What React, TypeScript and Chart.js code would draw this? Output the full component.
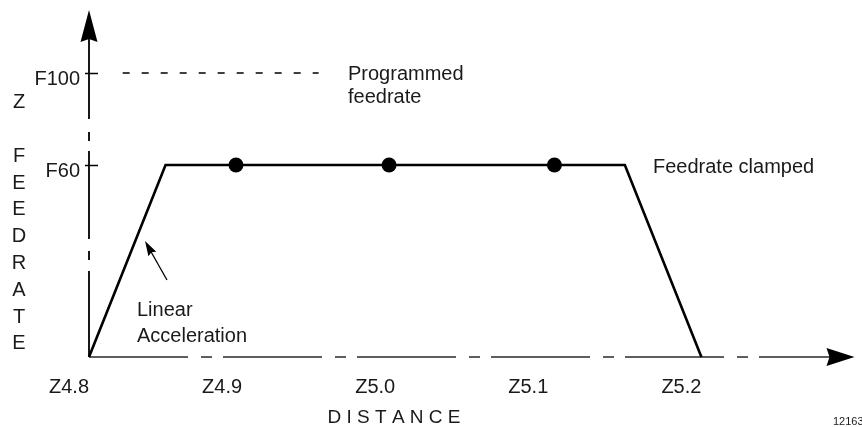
import React, { useEffect, useRef } from 'react';
import { Chart, registerables, LinearScale } from 'chart.js';

// ---------------- data ----------------
const xTickValues = [4.8, 4.9, 5.0, 5.1, 5.2];
const xTickLabels = ['Z4.8', 'Z4.9', 'Z5.0', 'Z5.1', 'Z5.2'];
const yTickValues = [60, 100];
const yTickLabels = ['F60', 'F100'];

// feedrate profile (distance, feedrate)
const profileDistance = [4.8, 4.85, 5.15, 5.2];
const profileFeed = [0, 60, 60, 0];

// block end points on the clamped plateau
const blockDistance = [4.896, 4.996, 5.104];
const blockFeed = [60, 60, 60];

// programmed feedrate reference (dashed)
const programmedDistance = [4.822, 4.95];
const programmedFeed = [100, 100];

const yAxisLetters = ['Z', '', 'F', 'E', 'E', 'D', 'R', 'A', 'T', 'E'];

// ---------------- broken y axis (compressed above F60) ----------------
const BREAK_AT = 60;
const BREAK_RATIO = 0.71875;
const compress = (v: number) => (v <= BREAK_AT ? v : BREAK_AT + (v - BREAK_AT) * BREAK_RATIO);
const expand = (v: number) => (v <= BREAK_AT ? v : BREAK_AT + (v - BREAK_AT) / BREAK_RATIO);

class BrokenLinearScale extends LinearScale {
  static id = 'brokenLinear';
  static defaults = LinearScale.defaults;
  getPixelForValue(value: number) {
    return super.getPixelForValue(compress(value));
  }
  getValueForPixel(pixel: number) {
    return expand(super.getValueForPixel(pixel) as number);
  }
}

Chart.register(...registerables, BrokenLinearScale as any);

const FAMILY = '"Liberation Sans", Arimo, Arial, sans-serif';
const INK = '#1a1a1a';

function arrowHead(ctx: CanvasRenderingContext2D, tipX: number, tipY: number, fromX: number, fromY: number, len: number, half: number, notch: number) {
  const ang = Math.atan2(tipY - fromY, tipX - fromX);
  const c = Math.cos(ang), s = Math.sin(ang);
  const bx = tipX - c * len, by = tipY - s * len;
  const nx = tipX - c * (len - notch), ny = tipY - s * (len - notch);
  ctx.beginPath();
  ctx.moveTo(tipX, tipY);
  ctx.lineTo(bx - s * half, by + c * half);
  ctx.lineTo(nx, ny);
  ctx.lineTo(bx + s * half, by - c * half);
  ctx.closePath();
  ctx.fill();
}

const schematicPlugin = {
  id: 'schematic',
  beforeDatasetsDraw(chart: any) {
    const { ctx, chartArea: a } = chart;
    ctx.save();
    // x axis: centre-line (long-short) style, greyish
    ctx.strokeStyle = '#5e5e5e';
    ctx.lineWidth = 2;
    ctx.setLineDash([99, 13, 11, 11]);
    ctx.beginPath();
    ctx.moveTo(a.left, a.bottom);
    ctx.lineTo(a.right - 12, a.bottom);
    ctx.stroke();
    // y axis: broken line
    ctx.strokeStyle = '#000';
    ctx.lineWidth = 1.8;
    ctx.setLineDash([105, 13, 9, 10, 88, 12, 9, 11, 400]);
    ctx.beginPath();
    ctx.moveTo(a.left, a.top + 4);
    ctx.lineTo(a.left, a.bottom);
    ctx.stroke();
    ctx.restore();
  },
  afterDraw(chart: any) {
    const { ctx, chartArea: a, scales } = chart;
    const y = scales.y;
    ctx.save();
    ctx.fillStyle = '#000';
    ctx.strokeStyle = '#000';

    // axis arrowheads
    arrowHead(ctx, a.left, a.top, a.left, a.top + 50, 32, 8.5, 3);
    arrowHead(ctx, a.right, a.bottom, a.right - 50, a.bottom, 28, 9, 3);

    // y tick crosses
    ctx.lineWidth = 1.5;
    yTickValues.forEach((v) => {
      const py = Math.round(y.getPixelForValue(v)) + 0.5;
      ctx.beginPath();
      ctx.moveTo(a.left - 4, py);
      ctx.lineTo(a.left + 9, py);
      ctx.stroke();
    });

    // vertical axis title letters
    ctx.fillStyle = INK;
    ctx.font = `20px ${FAMILY}`;
    ctx.textAlign = 'center';
    ctx.textBaseline = 'alphabetic';
    yAxisLetters.forEach((ch, i) => {
      if (ch) ctx.fillText(ch, 19, 101 + i * 26.8 + 7.2);
    });

    // annotations
    ctx.textAlign = 'left';
    ctx.fillText('Programmed', 348, 80);
    ctx.fillText('feedrate', 348, 103.4);
    ctx.fillText('Feedrate clamped', 653, 173.3);
    ctx.fillText('Linear', 137, 316.4);
    ctx.fillText('Acceleration', 137, 342);

    ctx.textAlign = 'center';
    ctx.font = `19px ${FAMILY}`;
    ctx.fillText('D I S T A N C E', 394, 422.6);

    ctx.textAlign = 'left';
    ctx.font = `11px ${FAMILY}`;
    ctx.fillText('12163', 833, 425);

    // linear acceleration pointer
    ctx.lineWidth = 1.3;
    ctx.beginPath();
    ctx.moveTo(167, 280);
    ctx.lineTo(150, 250);
    ctx.stroke();
    ctx.fillStyle = '#000';
    arrowHead(ctx, 145, 241, 167, 280, 15, 4.5, 2);

    ctx.restore();
  },
};

export default function App() {
  const ref = useRef<HTMLCanvasElement>(null);

  useEffect(() => {
    if (!ref.current) return;
    const toXY = (xs: number[], ys: number[]) => xs.map((x, i) => ({ x, y: ys[i] }));
    const chart = new Chart(ref.current, {
      type: 'line',
      data: {
        datasets: [
          {
            label: 'Feedrate',
            data: toXY(profileDistance, profileFeed),
            borderColor: '#000',
            borderWidth: 2.6,
            pointRadius: 0,
            tension: 0,
            fill: false,
            clip: false as any,
            borderJoinStyle: 'miter',
          },
          {
            label: 'Blocks',
            data: toXY(blockDistance, blockFeed),
            showLine: false,
            pointRadius: 7.5,
            pointBackgroundColor: '#000',
            pointBorderColor: '#000',
            pointBorderWidth: 0,
            clip: false as any,
          },
          {
            label: 'Programmed feedrate',
            data: toXY(programmedDistance, programmedFeed),
            borderColor: '#000',
            borderWidth: 1.4,
            borderDash: [7, 12],
            pointRadius: 0,
            fill: false,
            clip: false as any,
          },
        ],
      },
      options: {
        animation: false,
        responsive: false,
        devicePixelRatio: 1,
        events: [],
        layout: { padding: { left: 0, top: 10, right: 4, bottom: 0 } },
        plugins: { legend: { display: false }, tooltip: { enabled: false }, title: { display: false } },
        scales: {
          x: {
            type: 'linear',
            min: 4.8,
            max: 5.3,
            afterBuildTicks: (s: any) => {
              s.ticks = xTickValues.map((v) => ({ value: v }));
            },
            afterFit: (s: any) => {
              s.height = 70;
              s.paddingLeft = 0;
              s.paddingRight = 0;
            },
            grid: { display: false, drawTicks: false },
            border: { display: false },
            ticks: {
              autoSkip: false,
              maxRotation: 0,
              minRotation: 0,
              align: 'end',
              padding: 18,
              color: INK,
              font: { size: 20, family: FAMILY },
              callback: (_v: any, i: number) => xTickLabels[i],
            },
          },
          y: {
            type: 'brokenLinear' as any,
            min: 0,
            max: 108.44,
            afterBuildTicks: (s: any) => {
              s.ticks = yTickValues.map((v) => ({ value: v }));
            },
            afterFit: (s: any) => {
              s.width = 89;
              s.paddingTop = 0;
              s.paddingBottom = 0;
            },
            grid: { display: false, drawTicks: false },
            border: { display: false },
            ticks: {
              autoSkip: false,
              padding: 9,
              labelOffset: 6,
              color: INK,
              font: { size: 20, family: FAMILY },
              callback: (_v: any, i: number) => yTickLabels[i],
            },
          },
        },
      } as any,
      plugins: [schematicPlugin],
    });
    return () => chart.destroy();
  }, []);

  return (
    <div style={{ position: 'fixed', left: 0, top: 0, width: 862, height: 427, background: '#fff' }}>
      <canvas ref={ref} width={862} height={427} style={{ display: 'block', width: 862, height: 427 }} />
    </div>
  );
}
